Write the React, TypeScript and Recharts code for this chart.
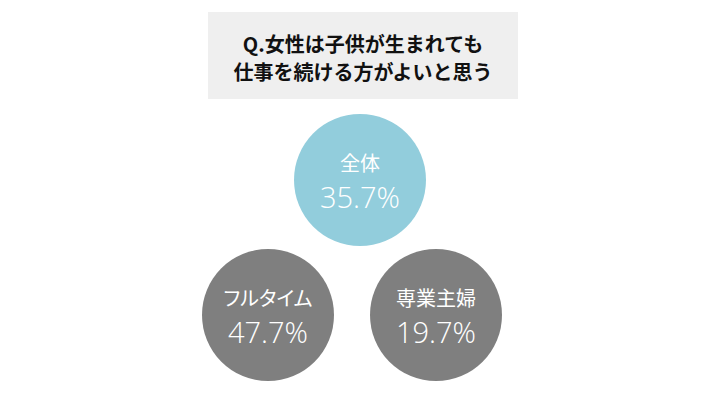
import { Scatter, ScatterChart, XAxis, YAxis } from "recharts";

// 質問文
const questionLines = ["Q.女性は子供が生まれても", "仕事を続ける方がよいと思う"];

// 回答者区分と「そう思う」割合(%)
const groups = ["全体", "フルタイム", "専業主婦"];
const shares = [35.7, 47.7, 19.7];

const CIRCLE_R = 66;
const BLUE = "#92CDDC";
const GRAY = "#7F7F7F";

// 1段目: 全体 / 2段目: 就業形態別
const topRow = [{ name: groups[0], value: shares[0], col: 0.5, row: 0 }];
const bottomRow = groups.slice(1).map((name, i) => ({
  name,
  value: shares[i + 1],
  col: i,
  row: 1,
}));

// 円の中に区分名と割合を2行で書く
function Bubble(props: any) {
  const { cx, cy, payload, fill } = props;
  return (
    <g>
      <circle cx={cx} cy={cy} r={CIRCLE_R} fill={fill} />
      <text
        x={cx}
        y={cy - 9}
        textAnchor="middle"
        fill="#fff"
        fontSize={20}
        fontFamily="'Noto Sans CJK JP', sans-serif"
        style={{ fontFeatureSettings: '"palt"' }}
      >
        {payload.name}
      </text>
      <text
        x={cx}
        y={cy + 28}
        textAnchor="middle"
        fill="#fff"
        fontSize={29}
        fontWeight={300}
        fontFamily="'Open Sans', sans-serif"
      >
        {`${payload.value.toFixed(1)}%`}
      </text>
    </g>
  );
}

export default function App() {
  return (
    <div style={{ position: "absolute", left: 0, top: 0, width: 720, height: 407, background: "#fff" }}>
      <style>{`body{margin:0}`}</style>
      <div
        style={{
          position: "absolute",
          left: 208,
          top: 12,
          width: 310,
          height: 87,
          boxSizing: "border-box",
          paddingTop: 18,
          background: "#EFEFEF",
          textAlign: "center",
          fontFamily: "'Noto Sans CJK JP', sans-serif",
          fontWeight: 700,
          fontSize: 20,
          lineHeight: "28px",
          color: "#111",
        }}
      >
        {questionLines.map((line) => (
          <div key={line}>{line}</div>
        ))}
      </div>
      <ScatterChart width={720} height={407} margin={{ top: 0, right: 0, bottom: 0, left: 0 }}>
        <XAxis
          xAxisId="top"
          type="number"
          dataKey="col"
          domain={[0, 1]}
          padding={{ left: 276, right: 276 }}
          hide
        />
        <XAxis
          xAxisId="bottom"
          type="number"
          dataKey="col"
          domain={[0, 1]}
          padding={{ left: 268, right: 284 }}
          hide
        />
        <YAxis
          type="number"
          dataKey="row"
          domain={[0, 1]}
          reversed
          padding={{ top: 180, bottom: 92 }}
          hide
        />
        <Scatter
          xAxisId="top"
          data={topRow}
          fill={BLUE}
          shape={<Bubble />}
          isAnimationActive={false}
        />
        <Scatter
          xAxisId="bottom"
          data={bottomRow}
          fill={GRAY}
          shape={<Bubble />}
          isAnimationActive={false}
        />
      </ScatterChart>
    </div>
  );
}
